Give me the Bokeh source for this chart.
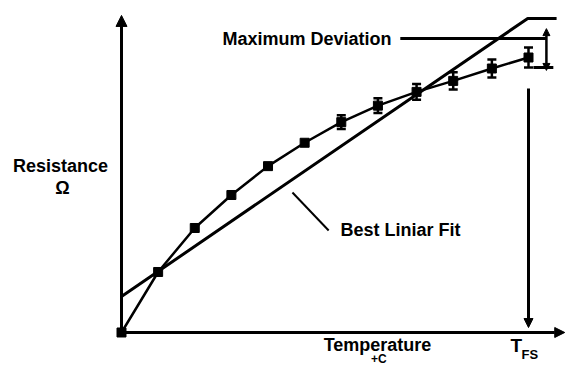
from bokeh.plotting import figure
from bokeh.models import Range1d, Arrow, NormalHead, Whisker, TeeHead, ColumnDataSource, Label
from bokeh.embed import file_html
from bokeh.resources import INLINE

# ---- data (arbitrary units, % of full scale) ----
temperature = [0, 9, 18, 27, 36, 45, 54, 63, 72.5, 81.5, 91, 100]
resistance = [0, 22, 38, 50, 60.5, 69, 76.5, 82.5, 87.5, 91.5, 96, 100]

err_temperature = [54, 63, 72.5, 81.5, 91, 100]
err_center = [76.5, 82.5, 87.5, 91.5, 96, 100]
err_half = [2.5, 2.7, 2.9, 3.1, 3.3, 3.6]

fit_intercept = 13.1
fit_slope = 1.013
fit_ceiling = 114.2
fit_x = [0, (114.2 - 13.1) / 1.013, 106.9]

t_fs = 100
max_dev_level = 106.9
max_dev_low = 96.4

FONT = "Liberation Sans"

p = figure(width=565, height=367, output_backend="svg", toolbar_location=None,
           x_range=Range1d(-29.73, 109.09), y_range=Range1d(-12.73, 120.73),
           x_axis_location=None, y_axis_location=None, min_border=0,
           outline_line_color=None)
p.grid.visible = False
p.background_fill_color = "white"
p.border_fill_color = "white"

# axes as arrows
p.add_layout(Arrow(end=NormalHead(size=11, fill_color="black", line_color="black"),
                   x_start=0, y_start=0, x_end=0, y_end=115.3, line_width=3, line_color="black"))
p.add_layout(Arrow(end=NormalHead(size=10, fill_color="black", line_color="black"),
                   x_start=0, y_start=0, x_end=108.9, y_end=0, line_width=3, line_color="black"))

# best linear fit (with flat cap at top)
fit_y = [min(fit_intercept + fit_slope * x, fit_ceiling) for x in fit_x]
p.line(fit_x, fit_y, line_width=3, line_color="black")

# measured curve
p.line(temperature, resistance, line_width=2.5, line_color="black")
p.scatter(temperature, resistance, marker="square", size=9, fill_color="black", line_color="black")

# error bars
src = ColumnDataSource(dict(
    x=err_temperature,
    lower=[c - h for c, h in zip(err_center, err_half)],
    upper=[c + h for c, h in zip(err_center, err_half)],
))
p.add_layout(Whisker(source=src, base="x", lower="lower", upper="upper", dimension="height",
                     line_width=2.5, line_color="black",
                     lower_head=TeeHead(size=9, line_width=2.5, line_color="black"),
                     upper_head=TeeHead(size=9, line_width=2.5, line_color="black")))

# maximum deviation markers
p.line([68.5, 104.4], [max_dev_level, max_dev_level], line_width=3, line_color="black")
p.line([101.2, 106.1], [max_dev_low, max_dev_low], line_width=3, line_color="black")
p.add_layout(Arrow(start=NormalHead(size=7, fill_color="black", line_color="black"),
                   end=NormalHead(size=7, fill_color="black", line_color="black"),
                   x_start=104.4, y_start=max_dev_level + 3.6, x_end=104.4, y_end=max_dev_low - 1.1,
                   line_width=2.5, line_color="black"))

# T_FS arrow
p.add_layout(Arrow(end=NormalHead(size=9, fill_color="black", line_color="black"),
                   x_start=t_fs, y_start=88.7, x_end=t_fs, y_end=1.8,
                   line_width=3, line_color="black"))

# leader line for fit label
p.line([42.0, 50.9], [50.9, 37.1], line_width=2, line_color="black")

def lab(x, y, text, size="18px", align="left"):
    p.add_layout(Label(x=x, y=y, text=text, text_font=FONT, text_font_style="bold",
                       text_font_size=size, text_align=align, text_baseline="middle",
                       text_color="black"))

lab(24.8, max_dev_level, "Maximum Deviation")
lab(53.8, 37.1, "Best Liniar Fit")
lab(-15.0, 60.7, "Resistance", align="center")
lab(-14.5, 52.4, "Ω", align="center")
lab(62.9, -4.7, "Temperature", align="center")
lab(63.2, -9.8, "+C", size="12px", align="center")
lab(95.6, -4.7, "T", size="19px")
lab(98.3, -8.0, "FS", size="13px")

open("out.html", "w").write(file_html(p, INLINE))
